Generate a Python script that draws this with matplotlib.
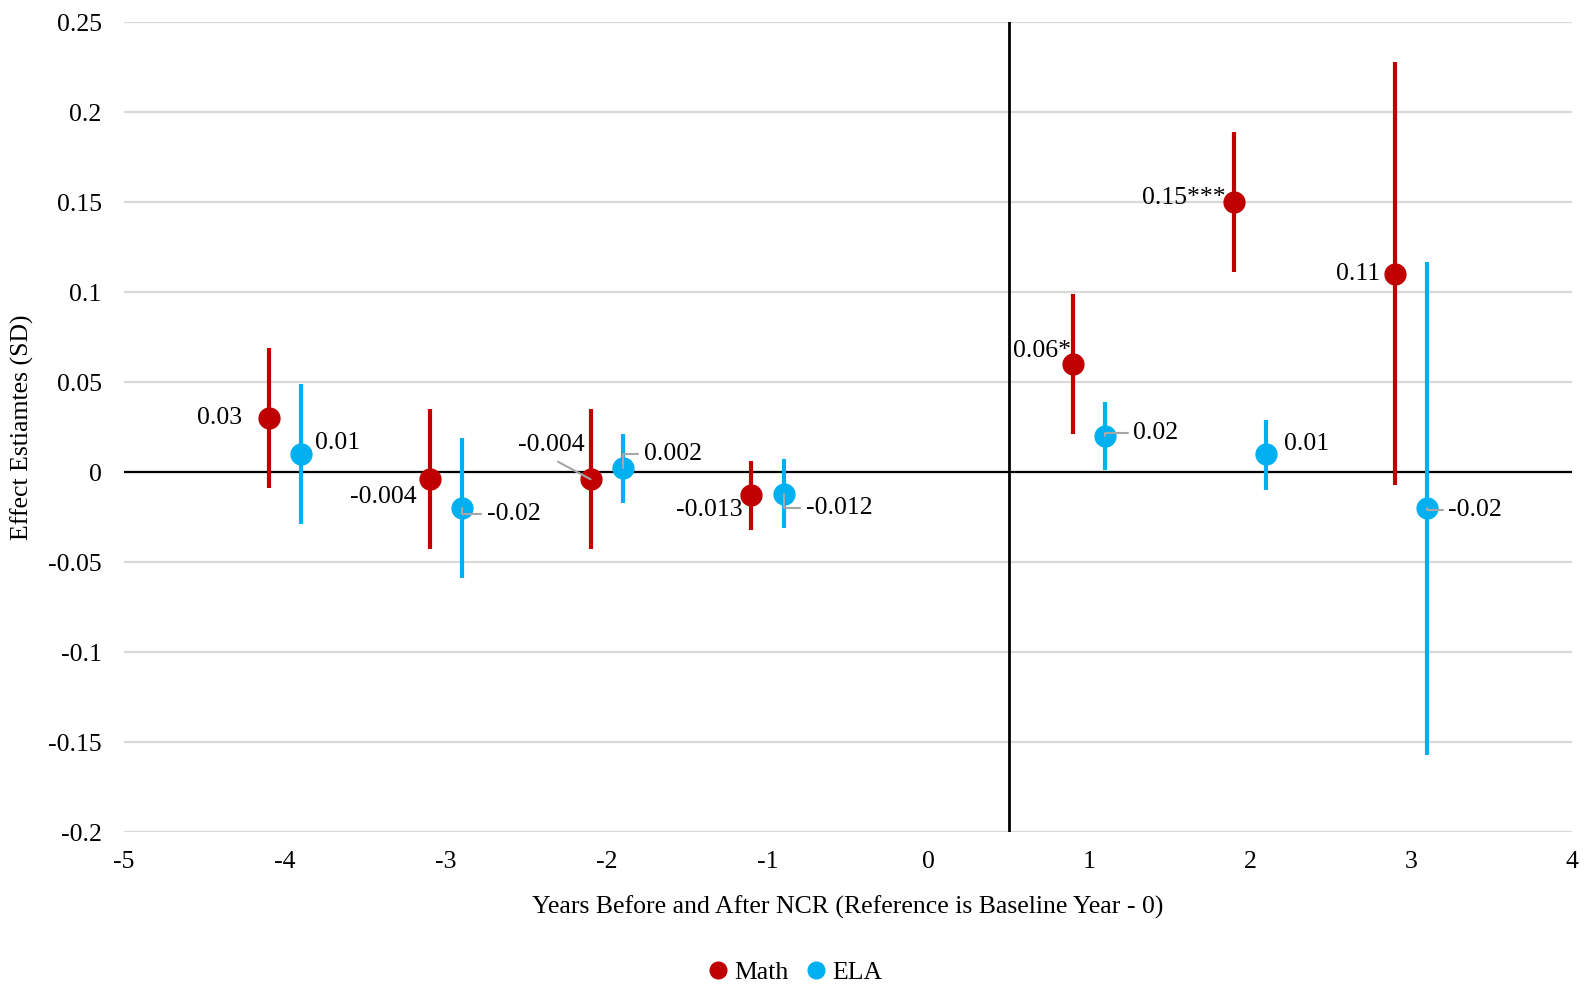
import matplotlib
matplotlib.use("Agg")
import numpy as np
import matplotlib.pyplot as plt

plt.rcParams['font.family'] = ['Liberation Serif', 'DejaVu Serif']
plt.rcParams['axes.unicode_minus'] = False

# data
math_x = [-4.1, -3.1, -2.1, -1.1, 0.9, 1.9, 2.9]
math_y = [0.03, -0.004, -0.004, -0.013, 0.06, 0.15, 0.11]
math_lo = [-0.009, -0.043, -0.043, -0.032, 0.021, 0.111, -0.007]
math_hi = [0.069, 0.035, 0.035, 0.006, 0.099, 0.189, 0.228]
math_lbl = ['0.03', '-0.004', '-0.004', '-0.013', '0.06*', '0.15***', '0.11']

ela_x = [-3.9, -2.9, -1.9, -0.9, 1.1, 2.1, 3.1]
ela_y = [0.01, -0.02, 0.002, -0.012, 0.02, 0.01, -0.02]
ela_lo = [-0.029, -0.059, -0.017, -0.031, 0.001, -0.010, -0.157]
ela_hi = [0.049, 0.019, 0.021, 0.007, 0.039, 0.029, 0.117]
ela_lbl = ['0.01', '-0.02', '0.002', '-0.012', '0.02', '0.01', '-0.02']

yticks = [0.25, 0.2, 0.15, 0.1, 0.05, 0, -0.05, -0.1, -0.15, -0.2]
ytick_lbl = ['0.25', '0.2', '0.15', '0.1', '0.05', '0', '-0.05', '-0.1', '-0.15', '-0.2']
xticks = [-5, -4, -3, -2, -1, 0, 1, 2, 3, 4]

red = '#C00000'
blue = '#00B0F0'
lead = '#A6A6A6'
fs = 18.5

fig = plt.figure(figsize=(15.85, 9.85), dpi=100)
ax = fig.add_axes([0.0782, 0.1553, 0.9136, 0.8222])

ax.set_xlim(-5, 4)
ax.set_ylim(-0.2, 0.25)
ax.set_yticks(yticks)
ax.set_yticklabels(ytick_lbl)
ax.set_xticks(xticks)
ax.tick_params(length=0, labelsize=fs)
ax.tick_params(axis='y', pad=16)
ax.tick_params(axis='x', pad=14)
for s in ax.spines.values():
    s.set_visible(False)
ax.grid(axis='y', color='#D9D9D9', lw=1.6)
ax.set_axisbelow(True)
ax.axhline(0, color='black', lw=1.6, zorder=1)
ax.axvline(0.5, color='black', lw=2, zorder=1)

def yerr(y, lo, hi):
    y = np.array(y)
    return [y - np.array(lo), np.array(hi) - y]

ax.errorbar(math_x, math_y, yerr=yerr(math_y, math_lo, math_hi), fmt='o', color=red,
            ms=15, elinewidth=3, capsize=0, zorder=3, label='Math')
ax.errorbar(ela_x, ela_y, yerr=yerr(ela_y, ela_lo, ela_hi), fmt='o', color=blue,
            ms=15, elinewidth=3, capsize=0, zorder=3, label='ELA')

# label offsets (pixels), alignment, leader line
math_off = [(-27, 0), (-13, -18), (-6, 34), (-9, -15), (-2, 13), (-8, 4), (-15, 0)]
math_lead = [False, False, True, False, False, False, False]
ela_off = [(14, 11), (25, -6), (21, 14), (22, -14), (28, 3), (18, 10), (21, -2)]
ela_lead = [False, True, True, True, True, False, True]

for x, y, t, o, ld in zip(math_x, math_y, math_lbl, math_off, math_lead):
    ap = None
    if ld:
        ap = dict(arrowstyle='-', color=lead, lw=1.5, shrinkA=4, shrinkB=0, relpos=(0.45, 0))
    ax.annotate(t, (x, y), xytext=o, textcoords='offset pixels', ha='right', va='center',
                fontsize=fs, arrowprops=ap, zorder=4)

for x, y, t, o, ld in zip(ela_x, ela_y, ela_lbl, ela_off, ela_lead):
    ap = None
    if ld:
        ap = dict(arrowstyle='-', color=lead, lw=1.5, shrinkA=2, shrinkB=0, relpos=(0, 0.5),
                  connectionstyle='angle,angleA=0,angleB=90,rad=0')
    ax.annotate(t, (x, y), xytext=o, textcoords='offset pixels', ha='left', va='center',
                fontsize=fs, arrowprops=ap, zorder=4)

ax.set_xlabel('Years Before and After NCR (Reference is Baseline Year - 0)', fontsize=fs, labelpad=16)
ax.set_ylabel('Effect Estiamtes (SD)', fontsize=fs)
ax.yaxis.set_label_coords(-0.062, 0.5)

l = ['Math', 'ELA']
h = [plt.Line2D([], [], marker='o', ls='', color=c, ms=12) for c in (red, blue)]
fig.legend(h, l, loc='lower center', bbox_to_anchor=(0.5, -0.022), ncol=2, frameon=False,
           fontsize=fs, handletextpad=0.0, columnspacing=0.5, handlelength=1.2)

fig.savefig('out.png', dpi=100)
